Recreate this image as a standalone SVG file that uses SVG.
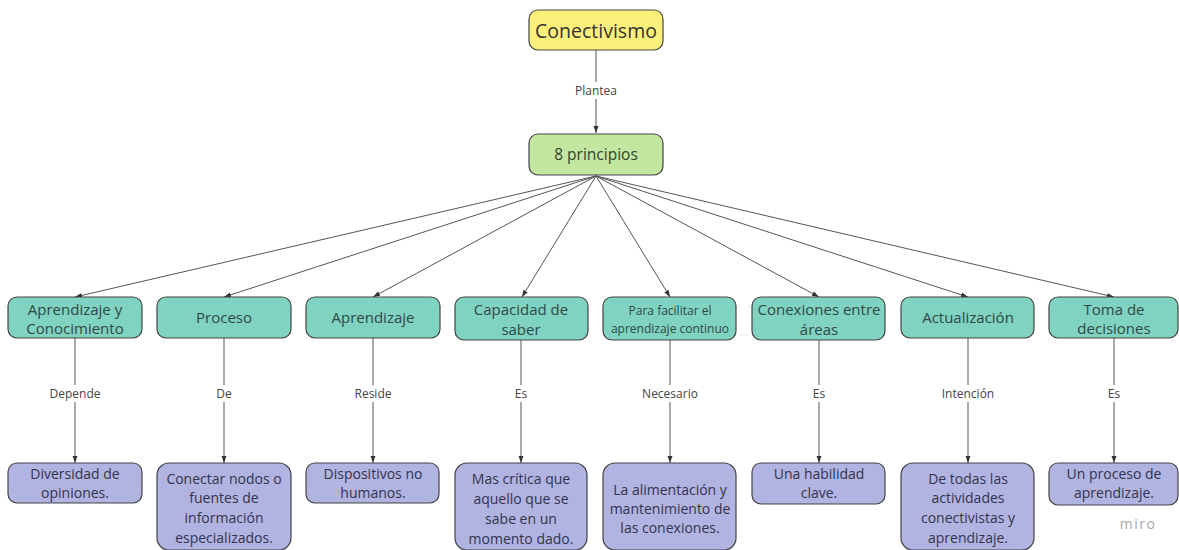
<svg xmlns="http://www.w3.org/2000/svg" width="1179" height="550" viewBox="0 0 1179 550">
<defs>
<marker id="arr" viewBox="0 0 10 10" refX="10" refY="5" markerWidth="7" markerHeight="7" markerUnits="userSpaceOnUse" orient="auto">
<path d="M0,1.5 L10,5 L0,8.5 z" fill="#333"/>
</marker>
<style>
text{font-family:"Open Sans","Noto Sans","DejaVu Sans",sans-serif;fill:#333;text-anchor:middle;dominant-baseline:central}
.root{fill:#fdf07a;stroke:#444;stroke-width:1.2}
.mid{fill:#c3e6a1;stroke:#444;stroke-width:1.2}
.l2{fill:#80d2c1;stroke:#444;stroke-width:1.2}
.l3{fill:#b1b3e1;stroke:#444;stroke-width:1.2}
.t2{font-size:15px;fill:#2f4a46}
.t3{font-size:14px;fill:#34344e}
.lab{font-size:12px;fill:#444}
.con line{stroke:#555;stroke-width:1;marker-end:url(#arr)}
.bg{fill:#fff}
</style>
</defs>
<rect width="1179" height="550" fill="#fff"/>
<g class="con" id="connectors">
<line x1="596" y1="50" x2="596" y2="133"/>
<line x1="596" y1="176" x2="75" y2="297"/>
<line x1="596" y1="176" x2="224" y2="297"/>
<line x1="596" y1="176" x2="373" y2="297"/>
<line x1="596" y1="176" x2="522" y2="297"/>
<line x1="596" y1="176" x2="670" y2="297"/>
<line x1="596" y1="176" x2="819" y2="297"/>
<line x1="596" y1="176" x2="968" y2="297"/>
<line x1="596" y1="176" x2="1114" y2="297"/>
<line x1="75" y1="338" x2="75" y2="463"/>
<line x1="224" y1="338" x2="224" y2="463"/>
<line x1="373" y1="338" x2="373" y2="463"/>
<line x1="521" y1="340" x2="521" y2="463"/>
<line x1="670" y1="340" x2="670" y2="463"/>
<line x1="819" y1="340" x2="819" y2="463"/>
<line x1="968" y1="338" x2="968" y2="463"/>
<line x1="1114" y1="338" x2="1114" y2="463"/>
<rect class="bg" x="572" y="82" width="48" height="17"/>
<text class="lab" x="596" y="90">Plantea</text>
<rect class="bg" x="47" y="385" width="56" height="17"/>
<text class="lab" x="75" y="393">Depende</text>
<rect class="bg" x="214" y="385" width="20" height="17"/>
<text class="lab" x="224" y="393">De</text>
<rect class="bg" x="352" y="385" width="42" height="17"/>
<text class="lab" x="373" y="393">Reside</text>
<rect class="bg" x="512" y="385" width="18" height="17"/>
<text class="lab" x="521" y="393">Es</text>
<rect class="bg" x="638" y="385" width="64" height="17"/>
<text class="lab" x="670" y="393">Necesario</text>
<rect class="bg" x="810" y="385" width="18" height="17"/>
<text class="lab" x="819" y="393">Es</text>
<rect class="bg" x="938" y="385" width="60" height="17"/>
<text class="lab" x="968" y="393">Intención</text>
<rect class="bg" x="1105" y="385" width="18" height="17"/>
<text class="lab" x="1114" y="393">Es</text>
</g>
<g id="n-conectivismo">
<rect class="root" x="529" y="10" width="134" height="40" rx="9"/>
<text x="596" y="30" style="font-size:19.5px">Conectivismo</text>
</g>
<g id="n-principios">
<rect class="mid" x="529" y="134" width="134" height="41" rx="9"/>
<text x="596" y="154" style="font-size:15.5px;fill:#34452a">8 principios</text>
</g>
<g id="n-aprcon">
<rect class="l2" x="8" y="297" width="134" height="41" rx="9"/>
<text class="t2" x="75" y="309">Aprendizaje y</text>
<text class="t2" x="75" y="328">Conocimiento</text>
</g>
<g id="n-proceso">
<rect class="l2" x="157" y="297" width="134" height="41" rx="9"/>
<text class="t2" x="224" y="317">Proceso</text>
</g>
<g id="n-aprendizaje">
<rect class="l2" x="306" y="297" width="134" height="41" rx="9"/>
<text class="t2" x="373" y="317">Aprendizaje</text>
</g>
<g id="n-capacidad">
<rect class="l2" x="455" y="297" width="133" height="43" rx="9"/>
<text class="t2" x="521" y="309">Capacidad de</text>
<text class="t2" x="521" y="329">saber</text>
</g>
<g id="n-facilitar">
<rect class="l2" x="603" y="297" width="133" height="43" rx="9"/>
<text x="670" y="310" style="font-size:12px;fill:#2f4a46">Para facilitar el</text>
<text x="670" y="328" style="font-size:12px;fill:#2f4a46">aprendizaje continuo</text>
</g>
<g id="n-conexiones">
<rect class="l2" x="752" y="297" width="133" height="43" rx="9"/>
<text class="t2" x="819" y="309">Conexiones entre</text>
<text class="t2" x="819" y="329">áreas</text>
</g>
<g id="n-actualizacion">
<rect class="l2" x="901" y="297" width="133" height="41" rx="9"/>
<text class="t2" x="968" y="317">Actualización</text>
</g>
<g id="n-toma">
<rect class="l2" x="1049" y="297" width="129" height="41" rx="9"/>
<text class="t2" x="1114" y="309">Toma de</text>
<text class="t2" x="1114" y="328">decisiones</text>
</g>
<g id="n-diversidad">
<rect class="l3" x="8" y="463" width="134" height="40" rx="9"/>
<text class="t3" x="75" y="473">Diversidad de</text>
<text class="t3" x="75" y="492">opiniones.</text>
</g>
<g id="n-conectar">
<rect class="l3" x="157" y="463" width="134" height="87" rx="12"/>
<text class="t3" x="224" y="478">Conectar nodos o</text>
<text class="t3" x="224" y="497">fuentes de</text>
<text class="t3" x="224" y="517">información</text>
<text class="t3" x="224" y="537">especializados.</text>
</g>
<g id="n-dispositivos">
<rect class="l3" x="306" y="463" width="133" height="40" rx="9"/>
<text class="t3" x="373" y="473">Dispositivos no</text>
<text class="t3" x="373" y="492">humanos.</text>
</g>
<g id="n-critica">
<rect class="l3" x="455" y="463" width="132" height="87" rx="12"/>
<text class="t3" x="521" y="478">Mas crítica que</text>
<text class="t3" x="521" y="498">aquello que se</text>
<text class="t3" x="521" y="518">sabe en un</text>
<text class="t3" x="521" y="538">momento dado.</text>
</g>
<g id="n-alimentacion">
<rect class="l3" x="603" y="463" width="133" height="87" rx="12"/>
<text class="t3" x="670" y="489">La alimentación y</text>
<text class="t3" x="670" y="508">mantenimiento de</text>
<text class="t3" x="670" y="527">las conexiones.</text>
</g>
<g id="n-habilidad">
<rect class="l3" x="752" y="463" width="133" height="41" rx="9"/>
<text class="t3" x="819" y="473">Una habilidad</text>
<text class="t3" x="819" y="492">clave.</text>
</g>
<g id="n-todas">
<rect class="l3" x="901" y="463" width="133" height="87" rx="12"/>
<text class="t3" x="968" y="478">De todas las</text>
<text class="t3" x="968" y="497">actividades</text>
<text class="t3" x="968" y="517">conectivistas y</text>
<text class="t3" x="968" y="537">aprendizaje.</text>
</g>
<g id="n-unproceso">
<rect class="l3" x="1049" y="463" width="129" height="42" rx="9"/>
<text class="t3" x="1114" y="473">Un proceso de</text>
<text class="t3" x="1114" y="492">aprendizaje.</text>
</g>
<text x="1138" y="523" style="font-size:14px;fill:#a9a9a9;letter-spacing:1.5px">miro</text>
</svg>
